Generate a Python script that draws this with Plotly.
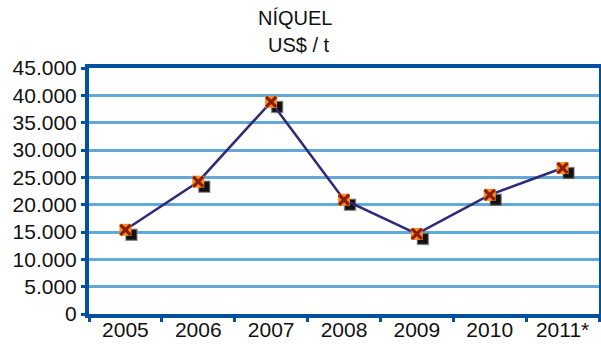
import plotly.graph_objects as go

# Annual average nickel price, US$ per tonne
years = ["2005", "2006", "2007", "2008", "2009", "2010", "2011*"]
prices = [15400, 24200, 38800, 20900, 14650, 21800, 26700]
y_ticks = [0, 5000, 10000, 15000, 20000, 25000, 30000, 35000, 40000, 45000]

W, H = 601, 344
ML, MR, MT, MB = 89, 2, 68, 30
plot_w = W - ML - MR
plot_h = H - MT - MB

x_range = [-0.5, len(years) - 0.5]
y_range = [0, 45000]

# pixel offset of the drop shadow under each marker
shadow_dx_px, shadow_dy_px = 6, 5
dx = shadow_dx_px * (x_range[1] - x_range[0]) / plot_w
dy = shadow_dy_px * (y_range[1] - y_range[0]) / plot_h

border = "#0052A0"
grid = "#62A8D8"
font = "Liberation Sans, Arial, sans-serif"

fig = go.Figure()

# shadow squares on an overlay axis pair shifted down-right
fig.add_trace(go.Scatter(
    x=years, y=prices, mode="markers", xaxis="x2", yaxis="y2",
    marker=dict(symbol="square", size=11, color="#111111",
                line=dict(color="rgba(110,110,110,0.6)", width=1.5)),
    hoverinfo="skip", showlegend=False,
))
# price line and markers on a top overlay with the true ranges
fig.add_trace(go.Scatter(
    x=years, y=prices, mode="lines", xaxis="x3", yaxis="y3",
    line=dict(color="#2E2A78", width=2.5),
    showlegend=False,
))
fig.add_trace(go.Scatter(
    x=years, y=prices, mode="markers", xaxis="x3", yaxis="y3",
    marker=dict(symbol="square", size=12, color="#F5901E",
                line=dict(color="#F5901E", width=0)),
    showlegend=False,
))
fig.add_trace(go.Scatter(
    x=years, y=prices, mode="markers", xaxis="x3", yaxis="y3",
    marker=dict(symbol="x-thin-open", size=10, color="#8E1B14",
                line=dict(color="#8E1B14", width=3.2)),
    showlegend=False,
))
# invisible trace so the base axes carry the category list
fig.add_trace(go.Scatter(
    x=years, y=prices, mode="markers", marker=dict(opacity=0),
    hoverinfo="skip", showlegend=False,
))

fig.update_layout(
    width=W, height=H,
    margin=dict(l=ML, r=MR, t=MT, b=MB),
    paper_bgcolor="white", plot_bgcolor="white",
    separators=",.",
    font=dict(family=font, size=21, color="#111111"),
    xaxis=dict(
        type="category", range=x_range, tickson="boundaries",
        ticks="outside", ticklen=4, tickwidth=3, tickcolor=border,
        showline=True, linecolor=border, linewidth=4, mirror=True,
        showgrid=False, zeroline=False, fixedrange=True, automargin=False,
        tickfont=dict(size=21), ticklabelstandoff=-6,
    ),
    yaxis=dict(
        range=y_range, tickvals=y_ticks, tickformat=",d",
        ticks="outside", ticklen=4, tickwidth=3, tickcolor=border,
        showline=True, linecolor=border, linewidth=4, mirror=True,
        showgrid=True, gridcolor=grid, gridwidth=2.5, zeroline=False,
        fixedrange=True, automargin=False, tickfont=dict(size=21),
    ),
    xaxis2=dict(
        type="category", overlaying="x", range=[x_range[0] - dx, x_range[1] - dx],
        visible=False, fixedrange=True,
    ),
    yaxis2=dict(
        overlaying="y", range=[y_range[0] + dy, y_range[1] + dy],
        visible=False, fixedrange=True,
    ),
    xaxis3=dict(
        type="category", overlaying="x", range=x_range,
        visible=False, fixedrange=True,
    ),
    yaxis3=dict(
        overlaying="y", range=y_range,
        visible=False, fixedrange=True,
    ),
    annotations=[
        dict(text="NÍQUEL", xref="paper", yref="paper",
             x=(295 - ML) / plot_w, y=1 + (MT - 18) / plot_h,
             showarrow=False, xanchor="center", yanchor="middle",
             font=dict(size=20, family=font)),
        dict(text="US$ / t", xref="paper", yref="paper",
             x=(299 - ML) / plot_w, y=1 + (MT - 45) / plot_h,
             showarrow=False, xanchor="center", yanchor="middle",
             font=dict(size=20, family=font)),
    ],
)

fig.write_html("out.html")
